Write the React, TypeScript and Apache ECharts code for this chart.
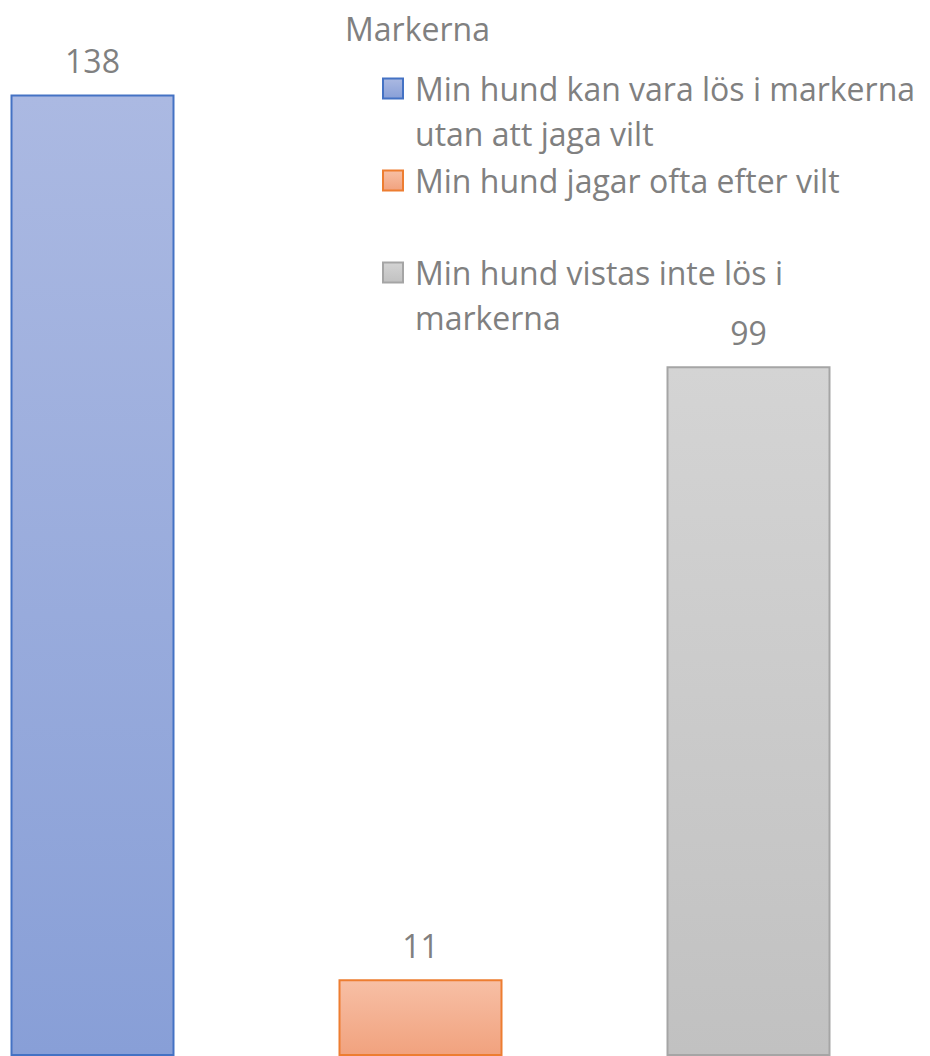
import React, { useEffect, useRef } from "react";
import * as echarts from "echarts";

const legendTitle = "Markerna";
const categories = ["Markerna"];
const seriesNames = [
  "Min hund kan vara lös i markerna utan att jaga vilt",
  "Min hund jagar ofta efter vilt",
  "Min hund vistas inte lös i markerna",
];
const legendLines = [
  ["Min hund kan vara lös i markerna", "utan att jaga vilt"],
  ["Min hund jagar ofta efter vilt"],
  ["Min hund vistas inte lös i", "markerna"],
];
const values = [138, 11, 99];
const topColors = ["#abb9e2", "#f7bfa5", "#d4d4d4"];
const bottomColors = ["#889fd7", "#f1a27e", "#c1c1c1"];
const borderColors = ["#4472c4", "#ed7d31", "#a5a5a5"];

const FONT = "Open Sans";
const TEXT_COLOR = "#808080";
const LINE_H = 45;

export default function App() {
  const ref = useRef<HTMLDivElement>(null);
  useEffect(() => {
    if (!ref.current) return;
    const chart = echarts.init(ref.current, null, { renderer: "svg" });
    const iconCenters = [88.5, 180.5, 272.5];
    const legends = seriesNames.map((name, i) => {
      const lines = legendLines[i];
      // pad with a blank line above so the icon sits beside the first line
      const padded = lines.length > 1 ? [" ", ...lines] : lines;
      const boxH = LINE_H * padded.length;
      return {
        show: true,
        orient: "vertical",
        left: 382,
        top: iconCenters[i] - boxH / 2,
        padding: 0,
        data: [name],
        icon: "rect",
        itemWidth: 20,
        itemHeight: 20,
        selectedMode: false,
        formatter: () => padded.join("\n"),
        textStyle: {
          fontFamily: FONT,
          fontSize: 32,
          color: TEXT_COLOR,
          lineHeight: LINE_H,
          padding: [0, 0, 0, 7],
          backgroundColor: "rgba(255,255,255,0)",
        },
      };
    });
    const option: any = {
      animation: false,
      title: {
        text: legendTitle,
        left: 345,
        top: 8,
        padding: 0,
        textStyle: {
          fontFamily: FONT,
          fontSize: 32,
          fontWeight: "normal",
          color: TEXT_COLOR,
          lineHeight: 40,
        },
      },
      legend: legends,
      grid: { left: 0, right: 89, top: 11, bottom: -5, containLabel: false },
      xAxis: {
        type: "category",
        data: categories,
        show: false,
      },
      yAxis: {
        type: "value",
        min: 0,
        max: 150,
        show: false,
        splitLine: { show: false },
      },
      series: seriesNames.map((name, i) => ({
        name,
        type: "bar",
        barWidth: 164,
        barGap: "100%",
        data: [values[i]],
        itemStyle: {
          color: new echarts.graphic.LinearGradient(0, 0, 0, 1, [
            { offset: 0, color: topColors[i] },
            { offset: 1, color: bottomColors[i] },
          ]),
          borderColor: borderColors[i],
          borderWidth: 2,
        },
        label: {
          show: true,
          position: "top",
          distance: 16,
          fontFamily: FONT,
          fontSize: 32,
          color: TEXT_COLOR,
          lineHeight: 36,
        },
      })),
    };
    chart.setOption(option);
    return () => chart.dispose();
  }, []);
  return (
    <div
      ref={ref}
      style={{ position: "absolute", left: 0, top: 0, width: 930, height: 1056 }}
    />
  );
}
